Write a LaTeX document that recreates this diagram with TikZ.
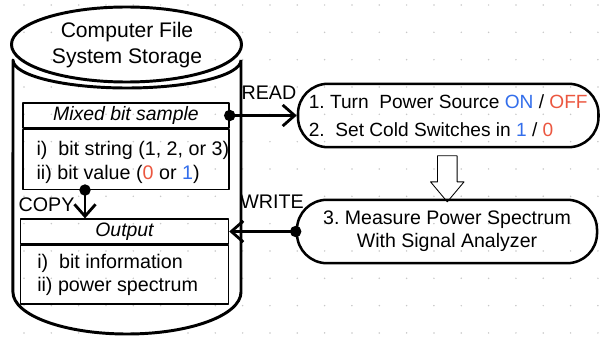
\documentclass[tikz,border=0pt]{standalone}
\usepackage{fontspec}
\setmainfont{Liberation Sans}
\usetikzlibrary{arrows.meta,positioning,shapes.arrows}
\definecolor{onblue}{RGB}{51,110,235}
\definecolor{offred}{RGB}{235,87,64}
\definecolor{dotgray}{RGB}{200,200,200}
\tikzset{
    txt/.style={font=\fontsize{14}{16.5}\selectfont},
    head/.style={draw,line width=1pt,minimum height=0.62cm,inner sep=0pt,font=\fontsize{13.8}{16.5}\selectfont\itshape},
    body/.style={draw,line width=1pt,inner sep=0pt},
    proc/.style={draw,line width=1.8pt,rounded corners=0.75cm,minimum height=1.585cm,inner sep=0pt},
    link/.style={line width=2pt,{Circle[length=8pt]}->,shorten <=-4pt}
}
\begin{document}
\frenchspacing
\begin{tikzpicture}[x=0.025cm,y=0.025cm,>={Straight Barb[length=8.5pt,width=15pt]},line join=round]
\useasboundingbox (0,0) rectangle (601,337);
\foreach \i in {0,...,21}
    \foreach \j in {0,...,12}
    {
        \fill[dotgray] (24+27.33*\i,332-27.33*\j) circle[radius=0.6pt];
    }
\begin{scope}[line width=2.1pt]
    \draw (126.5,292.5) ellipse[x radius=2.875cm,y radius=0.9375cm];
    \draw (241,277)--(241,45) arc[start angle=0,end angle=-180,x radius=2.85cm,y radius=1.05cm]
        --(13,277) arc[start angle=180,end angle=360,x radius=2.85cm,y radius=0.7cm];
\end{scope}
\node[font=\fontsize{15}{18.5}\selectfont,align=center] (title) at (127,292) {Computer File\\System Storage};
\node[head,minimum width=5.15cm] (mixhead) at (126,221.5) {Mixed bit sample};
\node[body,below=0pt of mixhead,minimum width=5.15cm,minimum height=1.5cm] (mixbody) {};
\node[txt,align=left,anchor=west,inner sep=0pt] (mixtext) at ([xshift=0.35cm,yshift=-0.075cm]mixbody.west)
    {i)~ bit string (1, 2, or 3)\\ii) bit value (\textcolor{offred}{0} or \textcolor{onblue}{1})};
\node[head,minimum width=5.2cm] (outhead) at (124.5,105.5) {Output};
\node[body,below=0pt of outhead,minimum width=5.2cm,minimum height=1.47cm] (outbody) {};
\node[font=\fontsize{14}{16.6}\selectfont,align=left,anchor=west,inner sep=0pt] (outtext) at ([xshift=0.43cm]outbody.west)
    {i)~ bit information\\ii) power spectrum};
\node[proc,font=\fontsize{13.6}{20}\selectfont,align=left,minimum width=7.51cm] (proc1) at (448.25,221.5)
    {1. Turn~ Power Source \textcolor{onblue}{ON} / \textcolor{offred}{OFF}\\2.~ Set Cold Switches in \textcolor{onblue}{1} / \textcolor{offred}{0}};
\node[proc,font=\fontsize{13.9}{16.6}\selectfont,align=center,minimum width=7.5cm] (proc2) at (447,105.5)
    {3. Measure Power Spectrum\\With Signal Analyzer};
\node[draw,single arrow,rotate=-90,line width=0.6pt,inner xsep=0pt,inner ysep=0.234cm,
    single arrow head extend=0.175cm,single arrow tip angle=80,minimum height=1.15cm] (down) at (447.3,164) {};
\coordinate (copyx) at (85,0);
\draw[link] (mixhead.east)--(proc1.west);
\draw[link] (proc2.west)--(outhead.east);
\draw[link] (mixbody.south-|copyx)--(outhead.north-|copyx);
\node[txt] (read) at (269,244.3) {READ};
\node[txt] (write) at (272,135.3) {WRITE};
\node[txt] (copy) at (46.5,132) {COPY};
\end{tikzpicture}
\end{document}
